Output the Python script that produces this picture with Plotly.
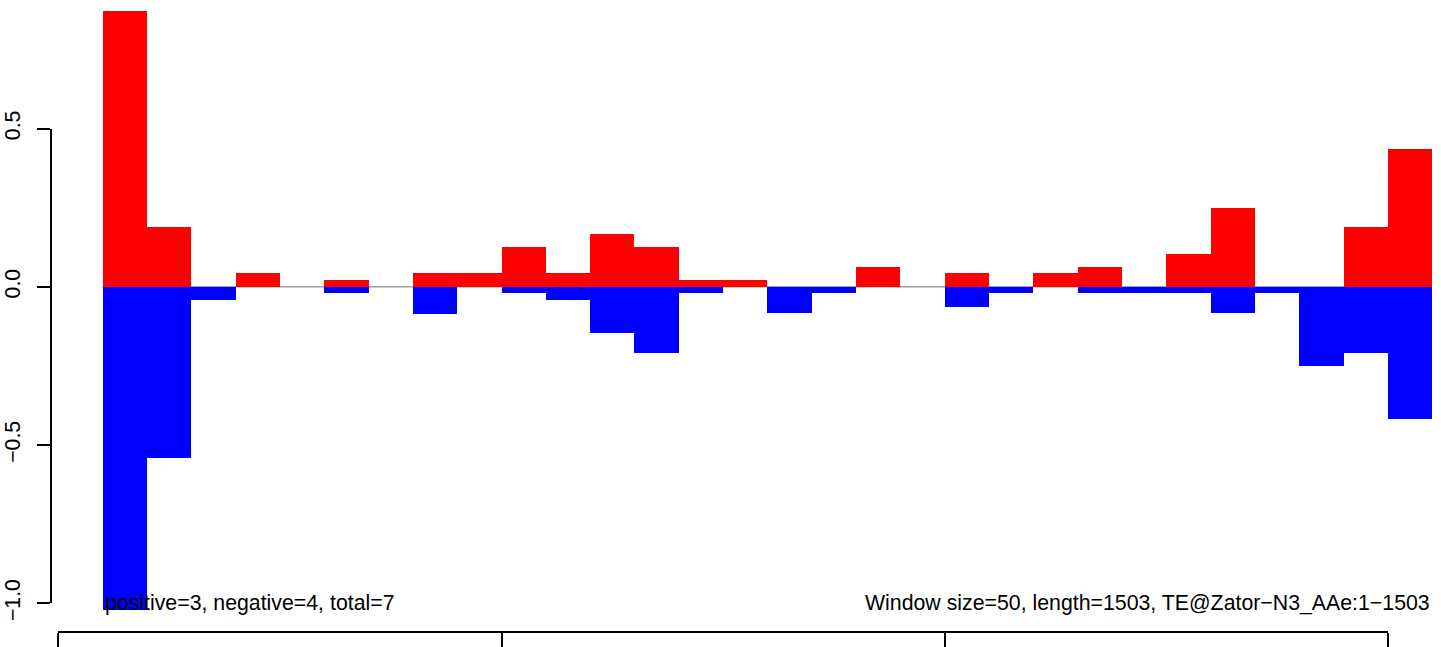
import plotly.graph_objects as go

# Window start positions (window size 50)
window_start = [50 * i for i in range(1, 31)]
window_size = 50

positive = [0.87, 0.19, 0.0, 0.044, 0.0, 0.021, 0.0, 0.044, 0.044, 0.126,
            0.044, 0.167, 0.126, 0.021, 0.021, 0.0, 0.0, 0.0625, 0.0, 0.044,
            0.0, 0.044, 0.0625, 0.0, 0.104, 0.249, 0.0, 0.0, 0.189, 0.435]
negative = [-1.02, -0.54, -0.042, 0.0, 0.0, -0.021, 0.0, -0.085, 0.0, -0.021,
            -0.042, -0.146, -0.208, -0.021, 0.0, -0.084, -0.021, 0.0, 0.0, -0.064,
            -0.021, 0.0, -0.021, -0.021, -0.021, -0.084, -0.021, -0.249, -0.208, -0.417]

y_ticks = [-1.0, -0.5, 0.0, 0.5]
y_tick_labels = ["\u22121.0", "\u22120.5", "0.0", "0.5"]
x_ticks = [0, 500, 1000, 1500]

left_text = "positive=3, negative=4, total=7"
right_text = "Window size=50, length=1503, TE@Zator\u2212N3_AAe:1\u22121503"

W, H = 1441, 647
# pixel mapping derived from reference
px_x0, px_per_x = 58.3, 0.8864   # pixel of x=0, px per unit
px_y0, px_per_y = 286.8, 316.5   # pixel of y=0, px per unit

x_range = [(0 - px_x0) / px_per_x, (W - px_x0) / px_per_x]
y_range = [-(H - px_y0) / px_per_y, px_y0 / px_per_y]

centers = [s + window_size / 2 for s in window_start]
FONT = "Liberation Sans, Arial, Helvetica, sans-serif"
FS = 21.3

fig = go.Figure()
fig.add_trace(go.Bar(x=centers, y=positive, width=window_size, base=0,
                     marker=dict(color="#ff0000", line=dict(width=0)), showlegend=False))
fig.add_trace(go.Bar(x=centers, y=negative, width=window_size, base=0,
                     marker=dict(color="#0000ff", line=dict(width=0)), showlegend=False))
# helper trace for R-style axes
fig.add_trace(go.Scatter(x=[None], y=[None], xaxis="x2", yaxis="y2",
                         mode="markers", showlegend=False, hoverinfo="skip"))

fig.update_layout(
    width=W, height=H,
    margin=dict(l=0, r=0, t=0, b=0, pad=0, autoexpand=False),
    paper_bgcolor="white", plot_bgcolor="rgba(0,0,0,0)",
    barmode="overlay", bargap=0,
    showlegend=False,
    font=dict(family=FONT, size=FS, color="black"),
    xaxis=dict(range=x_range, visible=False, domain=[0, 1], automargin=False),
    yaxis=dict(range=y_range, visible=False, domain=[0, 1], automargin=False),
    xaxis2=dict(range=[x_ticks[0], x_ticks[-1]],
                domain=[(px_x0 + x_ticks[0] * px_per_x) / W, (px_x0 + x_ticks[-1] * px_per_x) / W],
                anchor="free", position=(H - 632.3) / H, automargin=False,
                showline=True, linecolor="black", linewidth=1.5,
                ticks="outside", ticklen=16, tickwidth=1.5, tickcolor="black",
                tickvals=x_ticks, showticklabels=False, showgrid=False, zeroline=False),
    yaxis2=dict(range=[y_ticks[0], y_ticks[-1]],
                domain=[(H - (px_y0 - y_ticks[0] * px_per_y)) / H, (H - (px_y0 - y_ticks[-1] * px_per_y)) / H],
                anchor="free", position=50.7 / W, automargin=False,
                showline=True, linecolor="black", linewidth=1.5,
                ticks="outside", ticklen=13, tickwidth=1.5, tickcolor="black",
                tickvals=y_ticks, ticktext=y_tick_labels, tickangle=-90,
                tickfont=dict(family=FONT, size=FS, color="black"),
                ticklabelstandoff=8,
                showgrid=False, zeroline=False),
    shapes=[
        dict(type="line", xref="x", yref="y", layer="below",
             x0=window_start[0], x1=window_start[-1] + window_size, y0=0, y1=0,
             line=dict(color="#a0a0a0", width=1.6)),
    ],
    annotations=[
        dict(x=window_start[0], y=y_ticks[0], xref="x", yref="y", text=left_text,
             showarrow=False, xanchor="left", yanchor="middle",
             font=dict(family=FONT, size=FS, color="black")),
        dict(x=window_start[-1] + window_size, y=y_ticks[0], xref="x", yref="y", text=right_text,
             showarrow=False, xanchor="right", yanchor="middle",
             font=dict(family=FONT, size=FS, color="black")),
    ],
)

fig.write_html("out.html", config={"displayModeBar": False},
               post_script="document.body.style.margin='0';document.body.style.overflow='hidden';")
